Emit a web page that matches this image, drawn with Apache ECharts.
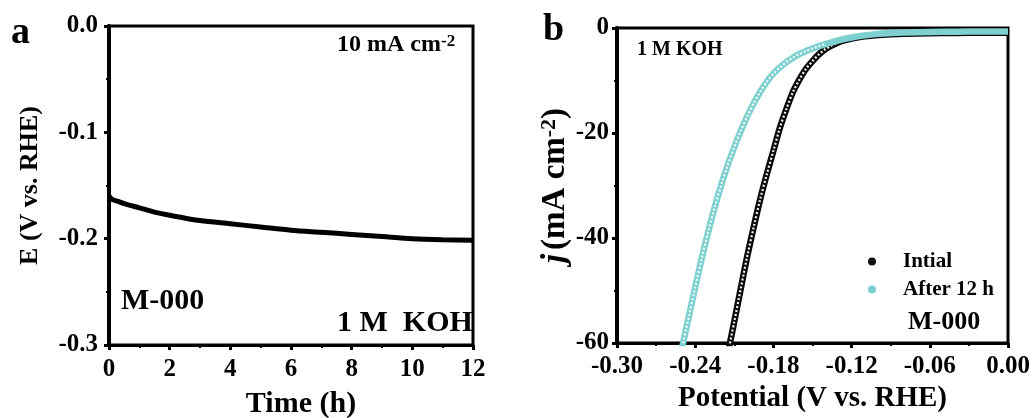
<!DOCTYPE html>
<html>
<head>
<meta charset="utf-8">
<script src="https://cdn.jsdelivr.net/npm/echarts@6/dist/echarts.min.js"></script>
<style>
  html, body { margin: 0; padding: 0; background: #fff; }
  #chart { width: 1033px; height: 418px; }
</style>
</head>
<body>
<div id="chart"></div>
<script>
// ---- Panel a: chronopotentiometry of M-000 at 10 mA cm-2 in 1 M KOH ----
const timeHours  = [0, 0.1, 0.3, 0.5, 1, 1.5, 2, 3, 4, 5, 6, 7, 8, 9, 10, 11, 12];
const potentialE = [-0.160, -0.163, -0.165, -0.167, -0.171, -0.175, -0.178, -0.183, -0.186,
                    -0.189, -0.192, -0.194, -0.196, -0.198, -0.200, -0.201, -0.2015];

// ---- Panel b: polarization curves (LSV) before and after 12 h ----
const potentialInitial = [-0.214, -0.210, -0.205, -0.200, -0.195, -0.190, -0.185, -0.180,
                          -0.175, -0.170, -0.165, -0.160, -0.155, -0.150, -0.145, -0.140,
                          -0.135, -0.130, -0.125, -0.120, -0.110, -0.100, -0.090, -0.080,
                          -0.060, -0.040, -0.020, 0.000];
const currentInitial   = [-60.8, -55.9, -49.6, -43.4, -37.8, -32.5, -27.8, -23.4,
                          -19.0, -15.4, -12.2, -9.8, -7.8, -6.3, -5.0, -4.0,
                          -3.3, -2.7, -2.3, -2.0, -1.6, -1.35, -1.2, -1.1,
                          -1.0, -0.95, -0.9, -0.9];

const potentialAfter = [-0.250, -0.245, -0.240, -0.235, -0.230, -0.225, -0.220, -0.215,
                        -0.210, -0.205, -0.200, -0.195, -0.190, -0.185, -0.180, -0.175,
                        -0.170, -0.165, -0.160, -0.155, -0.150, -0.145, -0.140, -0.130,
                        -0.120, -0.110, -0.100, -0.090, -0.080, -0.060, -0.040, -0.020, 0.000];
const currentAfter   = [-60.8, -55.1, -49.4, -43.9, -38.8, -34.1, -29.9, -26.1,
                        -22.7, -19.6, -16.8, -14.3, -12.1, -10.2, -8.7, -7.5,
                        -6.5, -5.65, -4.95, -4.4, -3.9, -3.45, -3.05, -2.35,
                        -1.8, -1.4, -1.12, -0.95, -0.85, -0.75, -0.7, -0.68, -0.65];

const seriesNames = ['Intial', 'After 12 h'];

// ---- Axis ticks ----
const timeTicks      = [0, 2, 4, 6, 8, 10, 12];
const eTicks         = [-0.3, -0.2, -0.1, 0.0];
const potentialTicks = [-0.30, -0.24, -0.18, -0.12, -0.06, 0.00];
const currentTicks   = [-60, -40, -20, 0];

const SERIF = '"Liberation Serif", "Times New Roman", "DejaVu Serif", serif';
const TEAL = '#7ecfcf';
const INK = '#000';

function zip(xs, ys) { return xs.map((x, i) => [x, ys[i]]); }
function step(ticks) { return Number((ticks[1] - ticks[0]).toFixed(6)); }
function fixed(d) { return v => (Math.abs(v) < 1e-9 ? 0 : v).toFixed(d); }

function valueAxis(gridIndex, ticks, labelFmt, lineW, labelMargin, extra) {
  return Object.assign({
    type: 'value',
    gridIndex: gridIndex,
    min: ticks[0],
    max: ticks[ticks.length - 1],
    interval: step(ticks),
    axisLine: { show: true, onZero: false, lineStyle: { color: INK, width: lineW } },
    axisTick: { show: true, inside: false, length: 5, lineStyle: { color: INK, width: 3 } },
    minorTick: { show: true, splitNumber: 2, length: 3, lineStyle: { color: INK, width: 2 } },
    splitLine: { show: false },
    minorSplitLine: { show: false },
    axisLabel: { color: INK, fontFamily: SERIF, fontWeight: 'bold', fontSize: 25, margin: labelMargin, formatter: labelFmt },
    nameLocation: 'middle',
    nameTextStyle: { color: INK, fontFamily: SERIF, fontWeight: 'bold', fontSize: 29 }
  }, extra || {});
}

// hollow-marker look: white beads along the steep part of each curve
function beads(xs, ys) { return zip(xs, ys).filter(p => p[1] < -2.6); }

const chart = echarts.init(document.getElementById('chart'), null, { renderer: 'canvas' });

const gridBase = { show: true, borderColor: INK, borderWidth: 3, backgroundColor: 'transparent', outerBoundsMode: 'none', containLabel: false };

const option = {
  animation: false,
  backgroundColor: '#fff',
  grid: [
    Object.assign({ left: 109, top: 26, width: 364, height: 319 }, gridBase),
    Object.assign({ left: 617, top: 28, width: 391, height: 315 }, gridBase)
  ],
  xAxis: [
    valueAxis(0, timeTicks, fixed(0), 3, 12, { name: 'Time (h)', nameGap: 44,
      nameTextStyle: { color: INK, fontFamily: SERIF, fontWeight: 'bold', fontSize: 30, padding: [0, 0, 0, 20] } }),
    valueAxis(1, potentialTicks, fixed(2), 3, 11, { name: 'Potential (V vs. RHE)', nameGap: 33 })
  ],
  yAxis: [
    valueAxis(0, eTicks, fixed(1), 4, 11, { name: 'E (V vs. RHE)', nameGap: 66,
      nameTextStyle: { color: INK, fontFamily: SERIF, fontWeight: 'bold', fontSize: 26 } }),
    valueAxis(1, currentTicks, fixed(0), 4, 8, {
      name: '{i|j}(mA cm{s|-2})', nameGap: 38,
      nameTextStyle: {
        color: INK, fontFamily: SERIF, fontWeight: 'bold', fontSize: 33,
        rich: {
          i: { fontFamily: SERIF, fontWeight: 'bold', fontStyle: 'italic', fontSize: 33, color: INK, padding: [0, 4, 0, 0] },
          s: { fontFamily: SERIF, fontWeight: 'bold', fontSize: 22, color: INK, verticalAlign: 'top', padding: [0, 0, 9, 0] }
        }
      }
    })
  ],
  legend: {
    data: seriesNames,
    orient: 'vertical',
    left: 868,
    top: 251,
    padding: 0,
    itemWidth: 52,
    itemHeight: 8,
    itemGap: 7,
    icon: 'circle',
    textStyle: { color: INK, fontFamily: SERIF, fontWeight: 'bold', fontSize: 21 }
  },
  series: [
    {
      name: 'E-t', type: 'line', xAxisIndex: 0, yAxisIndex: 0,
      data: zip(timeHours, potentialE), symbol: 'none', smooth: 0.3,
      lineStyle: { color: INK, width: 5 }
    },
    {
      name: seriesNames[0], type: 'line', xAxisIndex: 1, yAxisIndex: 1,
      data: zip(potentialInitial, currentInitial), symbol: 'none', smooth: 0.3,
      itemStyle: { color: '#111' },
      lineStyle: { color: '#0a0a0a', width: 6.5 }
    },
    {
      name: 'Intial beads', type: 'line', xAxisIndex: 1, yAxisIndex: 1,
      data: beads(potentialInitial, currentInitial), symbol: 'none', smooth: 0.3,
      lineStyle: { color: '#f2f2f2', width: 2.2, type: [2, 2] }
    },
    {
      name: seriesNames[1], type: 'line', xAxisIndex: 1, yAxisIndex: 1,
      data: zip(potentialAfter, currentAfter), symbol: 'none', smooth: 0.3,
      itemStyle: { color: TEAL },
      lineStyle: { color: TEAL, width: 6.5 }
    },
    {
      name: 'After beads', type: 'line', xAxisIndex: 1, yAxisIndex: 1,
      data: beads(potentialAfter, currentAfter), symbol: 'none', smooth: 0.3,
      lineStyle: { color: '#f4fbfb', width: 2.2, type: [2, 2] }
    }
  ],
  graphic: [
    { type: 'text', left: 11, top: 14, style: { text: 'a', fill: INK, font: 'bold 38px ' + SERIF } },
    { type: 'text', left: 543, top: 11, style: { text: 'b', fill: INK, font: 'bold 38px ' + SERIF } },
    { type: 'text', left: 337, top: 33, style: {
        text: '{m|10 mA cm}{s|-2}', fill: INK,
        rich: {
          m: { fontFamily: SERIF, fontWeight: 'bold', fontSize: 24, fill: INK, verticalAlign: 'bottom' },
          s: { fontFamily: SERIF, fontWeight: 'bold', fontSize: 17, fill: INK, verticalAlign: 'top' }
        } } },
    { type: 'text', left: 121, top: 286, style: { text: 'M-000', fill: INK, font: 'bold 30px ' + SERIF } },
    { type: 'text', left: 337, top: 308, style: { text: '1 M  KOH', fill: INK, font: 'bold 30px ' + SERIF } },
    { type: 'text', left: 637, top: 40, style: { text: '1 M KOH', fill: INK, font: 'bold 20px ' + SERIF } },
    { type: 'text', left: 908, top: 309, style: { text: 'M-000', fill: INK, font: 'bold 26px ' + SERIF } }
  ]
};

chart.setOption(option);
</script>
</body>
</html>
